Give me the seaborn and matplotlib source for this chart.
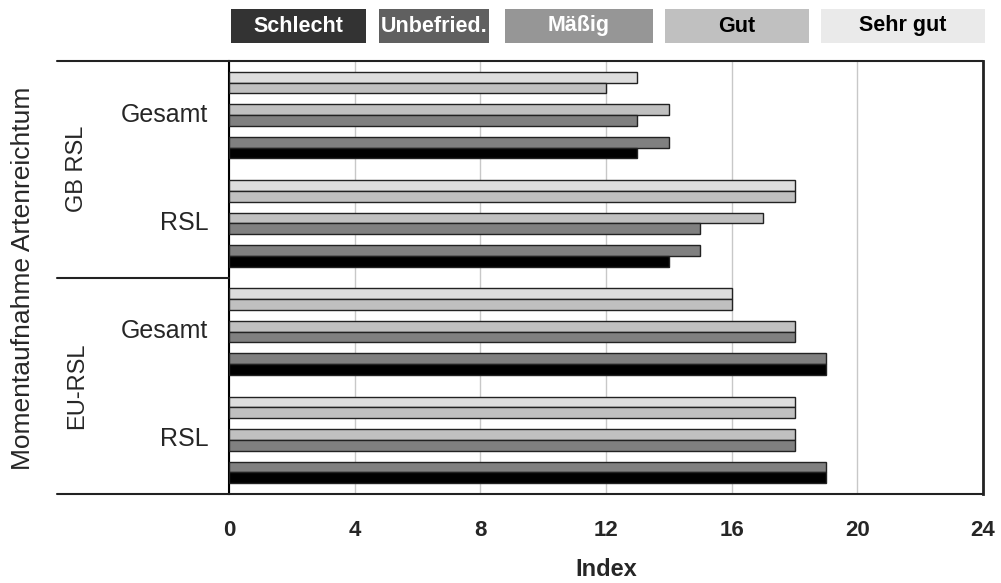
import matplotlib
matplotlib.use("Agg")
import matplotlib.pyplot as plt
from matplotlib.patches import Rectangle
from matplotlib.lines import Line2D
from matplotlib.transforms import ScaledTranslation
import seaborn as sns
import pandas as pd

# ---------------- data ----------------
groups = ["GB RSL Gesamt", "GB RSL RSL", "EU-RSL Gesamt", "EU-RSL RSL"]
group_tick_labels = ["Gesamt", "RSL", "Gesamt", "RSL"]
super_groups = ["GB RSL", "EU-RSL"]

pair1_top = [13, 18, 16, 18]
pair1_bottom = [12, 18, 16, 18]
pair2_top = [14, 17, 18, 18]
pair2_bottom = [13, 15, 18, 18]
pair3_top = [14, 15, 19, 19]
pair3_bottom = [13, 14, 19, 19]

slot_names = ["p1a", "p1b", "gap1", "p2a", "p2b", "gap2", "p3a", "p3b"]
slot_values = {"p1a": pair1_top, "p1b": pair1_bottom,
               "p2a": pair2_top, "p2b": pair2_bottom,
               "p3a": pair3_top, "p3b": pair3_bottom}
slot_colors = {"p1a": "#DDDDDD", "p1b": "#C0C0C0", "gap1": "white",
               "p2a": "#C0C0C0", "p2b": "#808080", "gap2": "white",
               "p3a": "#808080", "p3b": "#000000"}

legend_labels = ["Schlecht", "Unbefried.", "Mäßig", "Gut", "Sehr gut"]
legend_colors = ["#333333", "#606060", "#969696", "#C0C0C0", "#EAEAEA"]
legend_text_colors = ["white", "white", "white", "black", "black"]

x_ticks = [0, 4, 8, 12, 16, 20, 24]

rows = []
for s, vals in slot_values.items():
    for g, v in zip(groups, vals):
        rows.append({"group": g, "slot": s, "value": v})
df = pd.DataFrame(rows)

# ---------------- figure ----------------
W, H = 1001, 583
sns.set_style("white")
plt.rcParams["font.family"] = ["Liberation Sans", "DejaVu Sans"]

fig = plt.figure(figsize=(W / 100, H / 100), dpi=100)

def fx(px):
    return px / W

def fy(py):
    return 1 - py / H

ax_left, ax_right, ax_top, ax_bottom = 229, 983, 61, 494
ax = fig.add_axes([fx(ax_left), fy(ax_bottom), fx(ax_right - ax_left), (ax_bottom - ax_top) / H])

sns.barplot(data=df, y="group", x="value", hue="slot", order=groups,
            hue_order=slot_names, palette=slot_colors, orient="h",
            width=0.8, saturation=1, edgecolor="#222222", linewidth=1,
            errorbar=None, legend=False, ax=ax, zorder=3)

ax.set_xlim(0, 24)
ax.set_xticks(x_ticks)
ax.set_xticklabels([str(t) for t in x_ticks], fontsize=16, fontweight="bold")
ax.set_yticks(range(len(groups)))
ax.set_yticklabels(group_tick_labels, fontsize=18)
ax.tick_params(axis="x", length=0, pad=19)
ax.tick_params(axis="y", length=0, pad=15)
shift = ScaledTranslation(0, 3 / 100, fig.dpi_scale_trans)
for lbl in ax.get_yticklabels():
    lbl.set_transform(lbl.get_transform() + shift)
ax.set_ylabel("")
ax.set_xlabel("Index", fontsize=17, fontweight="bold", labelpad=12)

ax.grid(axis="x", color="#C8C8C8", linewidth=1, zorder=0)
ax.grid(axis="y", visible=False)
ax.set_axisbelow(True)

for side in ["top", "bottom"]:
    ax.spines[side].set_visible(False)
ax.spines["left"].set_color("black")
ax.spines["left"].set_linewidth(1.5)
ax.spines["right"].set_color("#222222")
ax.spines["right"].set_linewidth(2)

# frame lines extending into the label area
for py in [61, 278, 494]:
    x_end = 983 if py != 278 else 229
    fig.add_artist(Line2D([fx(57), fx(x_end)], [fy(py), fy(py)],
                          color="#222222", linewidth=1.5))

# group labels
fig.text(fx(77), fy(169), super_groups[0], rotation=90, ha="center", va="center", fontsize=17)
fig.text(fx(77), fy(386), super_groups[1], rotation=90, ha="center", va="center", fontsize=17)
fig.text(fx(23), fy(278), "Momentaufnahme Artenreichtum", rotation=90,
         ha="center", va="center", fontsize=19)

# legend boxes
boxes = [(231, 366), (379, 489), (505, 653), (665, 809), (821, 985)]
for (x0, x1), lab, col, tcol in zip(boxes, legend_labels, legend_colors, legend_text_colors):
    fig.add_artist(Rectangle((fx(x0), fy(43)), fx(x1 - x0), (43 - 9) / H,
                             facecolor=col, edgecolor="none", transform=fig.transFigure))
    fig.text(fx((x0 + x1) / 2), fy(26), lab, ha="center", va="center",
             color=tcol, fontsize=15.5, fontweight="bold")

fig.savefig("out.png", dpi=100)
